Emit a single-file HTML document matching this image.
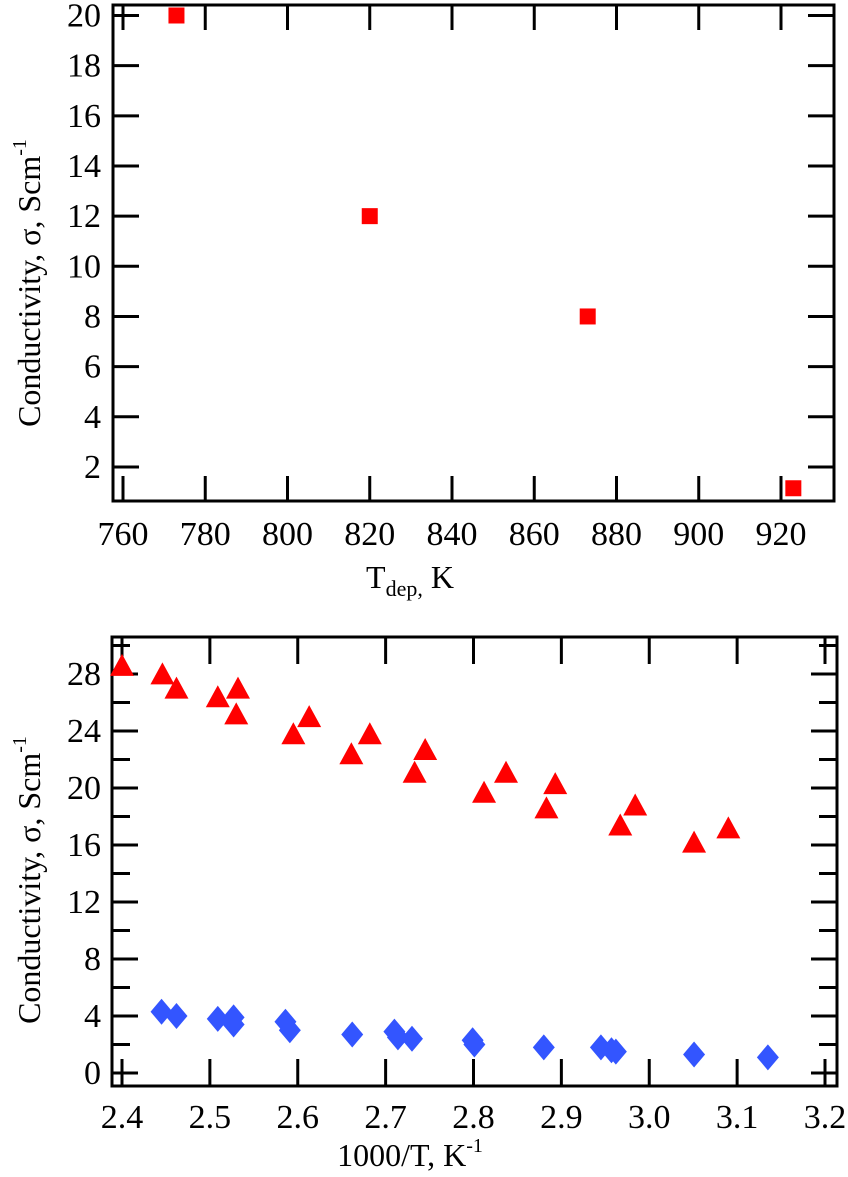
<!DOCTYPE html>
<html><head><meta charset="utf-8"><style>
html,body{margin:0;padding:0;background:#fff;}
svg, svg text{font-family:"Liberation Serif","DejaVu Serif",serif !important;}
</style></head><body>
<svg id="chart" width="848" height="1172" viewBox="0 0 848 1172" xmlns="http://www.w3.org/2000/svg" font-family="Liberation Serif, DejaVu Serif, serif">
<g id="top"></g>
<g id="bot"></g>
<text transform="translate(40,283) rotate(-90)" text-anchor="middle" font-size="32">Conductivity, σ, Scm<tspan dy="-14" font-size="20">-1</tspan></text>
<text x="410" y="588" text-anchor="middle" font-size="32">T<tspan dy="8" font-size="22">dep,</tspan><tspan dy="-8"> K</tspan></text>
<text transform="translate(40,880) rotate(-90)" text-anchor="middle" font-size="32">Conductivity, σ, Scm<tspan dy="-14" font-size="20">-1</tspan></text>
<text x="410" y="1166" text-anchor="middle" font-size="32">1000/T, K<tspan dy="-14" font-size="20">-1</tspan></text>
</svg>
<script>
const topX = [773, 820, 873, 923];
const topY = [20, 12, 8, 1.15];
const topXTicks = [760, 780, 800, 820, 840, 860, 880, 900, 920];
const topYTicks = [2, 4, 6, 8, 10, 12, 14, 16, 18, 20];

const triX = [2.400,2.446,2.462,2.509,2.532,2.530,2.595,2.613,2.661,2.682,2.733,2.745,2.812,2.837,2.883,2.893,2.967,2.984,3.051,3.090];
const triY = [28.5,27.9,26.9,26.3,26.9,25.1,23.7,24.9,22.3,23.7,21.0,22.6,19.6,21.0,18.5,20.2,17.3,18.7,16.1,17.1];
const diaX = [2.445,2.462,2.509,2.527,2.527,2.586,2.591,2.662,2.710,2.714,2.730,2.799,2.801,2.880,2.945,2.957,2.962,3.051,3.135];
const diaY = [4.3,4.0,3.8,3.9,3.4,3.6,3.0,2.7,2.9,2.5,2.4,2.3,2.0,1.8,1.8,1.6,1.5,1.3,1.1];
const botXTicks = [2.4,2.5,2.6,2.7,2.8,2.9,3.0,3.1,3.2];
const botYTicks = [0,4,8,12,16,20,24,28];
const botYMinor = [2,6,10,14,18,22,26,30];

const NS = "http://www.w3.org/2000/svg";
const FF = "Liberation Serif, DejaVu Serif, serif";
function mk(parent, tag, attrs){ const e=document.createElementNS(NS,tag); for(const k in attrs) e.setAttribute(k,attrs[k]); parent.appendChild(e); return e; }

// top panel
const T = document.getElementById('top');
const tL=113,tR=834,tT=5,tB=501;
const tx = v => 123 + (v-760)*(781-123)/160;
const ty = v => 15.5 + (20-v)*25.08;
let fr = mk(T,'rect',{x:tL,y:tT,width:tR-tL,height:tB-tT,fill:'none',stroke:'#000','stroke-width':3});


topXTicks.forEach(v=>{
  const x=tx(v);
  let l=mk(T,'line',{x1:x,x2:x,y1:tB,y2:tB-25,stroke:'#000','stroke-width':3});
  
  
  let l2=mk(T,'line',{x1:x,x2:x,y1:tT,y2:tT+25,stroke:'#000','stroke-width':3});
  
  
  let t=mk(T,'text',{x:x,y:545,'text-anchor':'middle','font-size':34,'font-family':FF});
  t.textContent=v;
  
  
});
topYTicks.forEach(v=>{
  const y=ty(v);
  let l=mk(T,'line',{x1:tL,x2:tL+26,y1:y,y2:y,stroke:'#000','stroke-width':3});
  
  
  let l2=mk(T,'line',{x1:tR,x2:tR-26,y1:y,y2:y,stroke:'#000','stroke-width':3});
  
  
  let t=mk(T,'text',{x:101,y:y+11,'text-anchor':'end','font-size':34,'font-family':FF});
  t.textContent=v;
  
  
});
topX.forEach((v,i)=>{
  let r=mk(T,'rect',{x:tx(v)-8,y:ty(topY[i])-8,width:16,height:16,fill:'#ff0000'});
  
  
});

// bottom panel
const B = document.getElementById('bot');
const bL=112,bR=837,bT=637,bB=1086;
const bx = v => 122 + (v-2.4)*(825-122)/0.8;
const by = v => 1073 - v*14.25;
let fr2 = mk(B,'rect',{x:bL,y:bT,width:bR-bL,height:bB-bT,fill:'none',stroke:'#000','stroke-width':3});


botXTicks.forEach(v=>{
  const x=bx(v);
  let l=mk(B,'line',{x1:x,x2:x,y1:bB,y2:bB-27,stroke:'#000','stroke-width':3});
  
  
  let l2=mk(B,'line',{x1:x,x2:x,y1:bT,y2:bT+27,stroke:'#000','stroke-width':3});
  
  
  let t=mk(B,'text',{x:x,y:1128,'text-anchor':'middle','font-size':34,'font-family':FF});
  t.textContent=v.toFixed(1);
  
  
});
botYTicks.forEach(v=>{
  const y=by(v);
  let l=mk(B,'line',{x1:bL,x2:bL+26,y1:y,y2:y,stroke:'#000','stroke-width':3});
  
  
  let l2=mk(B,'line',{x1:bR,x2:bR-26,y1:y,y2:y,stroke:'#000','stroke-width':3});
  
  
  let t=mk(B,'text',{x:101,y:y+11,'text-anchor':'end','font-size':34,'font-family':FF});
  t.textContent=v;
  
  
});
botYMinor.forEach(v=>{
  const y=by(v);
  let l=mk(B,'line',{x1:bL,x2:bL+18,y1:y,y2:y,stroke:'#000','stroke-width':3});
  
  
  let l2=mk(B,'line',{x1:bR,x2:bR-18,y1:y,y2:y,stroke:'#000','stroke-width':3});
  
  
});
triX.forEach((v,i)=>{
  const x=bx(v), y=by(triY[i]);
  let p=mk(B,'polygon',{points:`${x},${y-13} ${x-12},${y+9} ${x+12},${y+9}`,fill:'#ff0000'});
  
  
});
diaX.forEach((v,i)=>{
  const x=bx(v), y=by(diaY[i]);
  let p=mk(B,'polygon',{points:`${x},${y-13} ${x+11},${y} ${x},${y+13} ${x-11},${y}`,fill:'#3355ff'});
  
  
});
</script>
</body></html>
